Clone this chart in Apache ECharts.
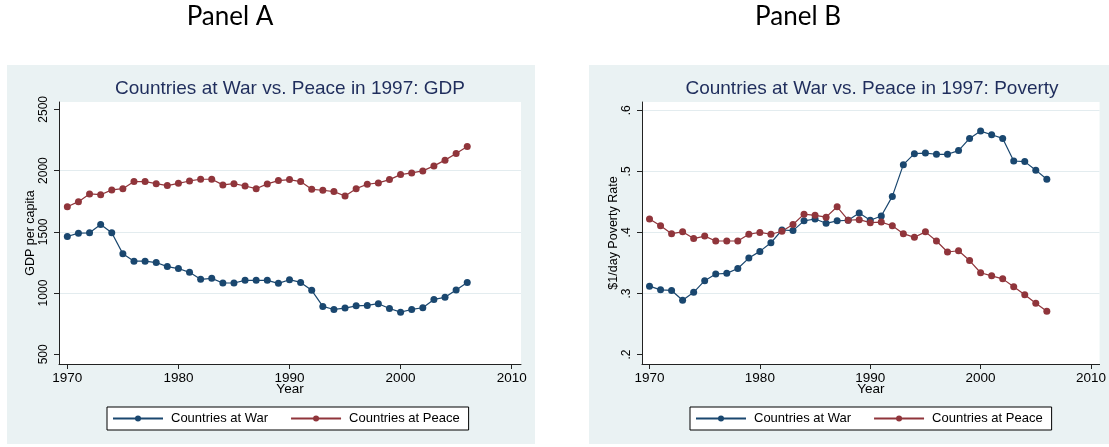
<!DOCTYPE html>
<html lang="en">
<head>
    <meta charset="UTF-8">
    <title>War vs Peace 1997</title>
    <script src="https://cdn.jsdelivr.net/npm/echarts@6/dist/echarts.min.js"></script>
    <style>
        html, body { margin: 0; padding: 0; background: #fff; }
        #main { width: 1109px; height: 447px; }
    </style>
</head>
<body>
<div id="main"></div>
<script>
    // data
    var years = [1970, 1971, 1972, 1973, 1974, 1975, 1976, 1977, 1978, 1979,
                 1980, 1981, 1982, 1983, 1984, 1985, 1986, 1987, 1988, 1989,
                 1990, 1991, 1992, 1993, 1994, 1995, 1996, 1997, 1998, 1999,
                 2000, 2001, 2002, 2003, 2004, 2005, 2006];
    var gdpWar = [1462, 1489, 1492, 1560, 1492, 1320, 1260, 1260, 1249, 1216,
                  1200, 1169, 1112, 1120, 1082, 1082, 1104, 1104, 1104, 1079,
                  1109, 1087, 1022, 891, 866, 877, 896, 899, 913, 874,
                  844, 866, 880, 948, 965, 1025, 1087];
    var gdpPeace = [1705, 1746, 1809, 1803, 1842, 1852, 1910, 1910, 1893, 1877,
                    1896, 1915, 1929, 1929, 1883, 1893, 1874, 1852, 1891, 1918,
                    1926, 1910, 1847, 1839, 1828, 1792, 1852, 1888, 1899, 1926,
                    1967, 1981, 1997, 2038, 2085, 2139, 2197];
    var povWar = [.312, .306, .305, .289, .302, .321, .332, .333, .341, .358,
                  .369, .383, .404, .403, .419, .422, .415, .419, .420, .432,
                  .420, .427, .459, .511, .529, .530, .528, .528, .534, .554,
                  .566, .560, .554, .517, .516, .502, .487];
    var povPeace = [.422, .411, .398, .401, .390, .394, .386, .386, .386, .397,
                    .400, .397, .402, .413, .430, .428, .425, .442, .420, .421,
                    .416, .417, .411, .398, .392, .401, .386, .368, .370, .354,
                    .334, .329, .324, .311, .298, .284, .271];
    var yearTicks = [1970, 1980, 1990, 2000, 2010];
    var gdpTicks = [500, 1000, 1500, 2000, 2500];
    var povTicks = [0.2, 0.3, 0.4, 0.5, 0.6];

    var warColor = '#1a476f';
    var peaceColor = '#90353b';
    var panelBg = '#eaf2f3';
    var gridColor = '#e3ecef';
    var axisColor = '#222';
    var font = 'Liberation Sans, Arial, sans-serif';

    function xAxisOpt(grid, min, max) {
        return {
            type: 'value', gridIndex: grid, min: min, max: max,
            name: 'Year', nameLocation: 'middle', nameGap: 18, nameMoveOverlap: false,
            nameTextStyle: { color: '#000', fontSize: 13.5, fontFamily: font },
            axisLine: { show: true, onZero: false, lineStyle: { color: axisColor, width: 1 } },
            axisTick: { show: true, length: 5, customValues: yearTicks, lineStyle: { color: axisColor } },
            axisLabel: { customValues: yearTicks, margin: 7, color: '#000', fontSize: 13.5, fontFamily: font,
                         formatter: function (v) { return String(v); } },
            splitLine: { show: false }
        };
    }

    function yAxisOpt(grid, min, max, ticks, title, fmt, lines) {
        return {
            type: 'value', gridIndex: grid, min: min, max: max,
            name: title, nameLocation: 'middle', nameRotate: 90, nameGap: 21,
            nameTextStyle: { color: '#000', fontSize: 12.5, fontFamily: font },
            axisLine: { show: true, onZero: false, lineStyle: { color: axisColor, width: 1 } },
            axisTick: { show: true, length: 5, customValues: ticks, lineStyle: { color: axisColor } },
            axisLabel: { customValues: ticks, rotate: 90, margin: 9, color: '#000', fontSize: 12,
                         fontFamily: font, formatter: fmt },
            splitLine: { show: true, lineStyle: { color: lines, width: 1 } }
        };
    }

    function legendOpt(left) {
        return {
            data: ['Countries at War', 'Countries at Peace'],
            left: left, top: 407,
            orient: 'horizontal',
            backgroundColor: '#fff', borderColor: '#000', borderWidth: 1, borderRadius: 0,
            padding: [5, 9, 5, 5],
            itemWidth: 50, itemHeight: 7.5, itemGap: 22,
            selectedMode: false,
            textStyle: { color: '#000', fontSize: 13, fontFamily: font, padding: [0, 0, 0, 3] }
        };
    }

    function lineSeries(name, x, y, color, values) {
        return {
            name: name, type: 'line', xAxisIndex: x, yAxisIndex: y,
            data: years.map(function (yr, i) { return [yr, values[i]]; }),
            symbol: 'circle', symbolSize: 7, showSymbol: true,
            itemStyle: { color: color },
            lineStyle: { color: color, width: 1.2 },
            animation: false
        };
    }

    function centered(x, y, text, font, fill) {
        return { type: 'text', x: x, y: y, style: { text: text, font: font, fill: fill,
            align: 'center', verticalAlign: 'middle', textAlign: 'center', textVerticalAlign: 'middle' } };
    }

    var none = 'rgba(0,0,0,0)';
    var chart = echarts.init(document.getElementById('main'), null, { renderer: 'canvas' });
    var option = {
        backgroundColor: '#fff',
        animation: false,
        graphic: [
            { type: 'rect', z: -10, shape: { x: 7, y: 65, width: 528, height: 379 }, style: { fill: panelBg } },
            { type: 'rect', z: -10, shape: { x: 589, y: 65, width: 520, height: 379 }, style: { fill: panelBg } },
            centered(230, 17, 'Panel A', '26px Lato, sans-serif', '#000'),
            centered(798, 17, 'Panel B', '26px Lato, sans-serif', '#000'),
            centered(290, 89, 'Countries at War vs. Peace in 1997: GDP', '19px ' + font, '#1f2d5c'),
            centered(872, 89, 'Countries at War vs. Peace in 1997: Poverty', '19px ' + font, '#1f2d5c')
        ],
        grid: [
            { left: 59, top: 102, width: 462, height: 262, show: true, backgroundColor: '#fff', borderWidth: 0 },
            { left: 642, top: 102, width: 461, height: 262, show: true, backgroundColor: '#fff', borderWidth: 0 }
        ],
        xAxis: [
            xAxisOpt(0, 1969.25, 2010.84),
            xAxisOpt(1, 1969.32, 2010.78)
        ],
        yAxis: [
            yAxisOpt(0, 420.8, 2559.6, gdpTicks, 'GDP per capita',
                     function (v) { return String(v); },
                     [none, gridColor, gridColor, gridColor, none]),
            yAxisOpt(1, 0.1846, 0.6136, povTicks, '$1/day Poverty Rate',
                     function (v) { return v.toFixed(1).replace(/^0\./, '.'); },
                     [none, gridColor, gridColor, gridColor, gridColor])
        ],
        legend: [legendOpt(107), legendOpt(690)],
        series: [
            lineSeries('Countries at War', 0, 0, warColor, gdpWar),
            lineSeries('Countries at Peace', 0, 0, peaceColor, gdpPeace),
            lineSeries('Countries at War', 1, 1, warColor, povWar),
            lineSeries('Countries at Peace', 1, 1, peaceColor, povPeace)
        ]
    };
    chart.setOption(option);
</script>
</body>
</html>
